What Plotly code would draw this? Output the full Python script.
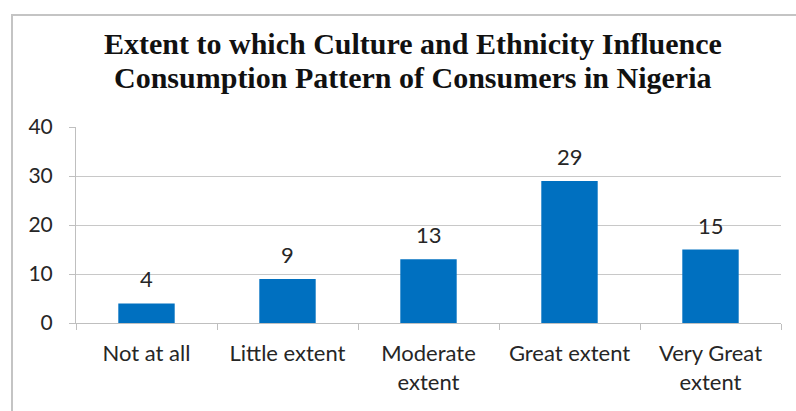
import plotly.graph_objects as go

categories = ["Not at all", "Little extent", "Moderate<br>extent", "Great extent", "Very Great<br>extent"]
values = [4, 9, 13, 29, 15]
y_ticks = [0, 10, 20, 30, 40]
title_lines = ["Extent to which Culture and Ethnicity Influence",
               "Consumption Pattern of Consumers in Nigeria"]

W, H = 796, 411
L, R, T, B = 76, 15, 127, 88
FONT = "Lato, Open Sans, Liberation Sans, sans-serif"

fig = go.Figure()
fig.add_trace(go.Bar(x=categories, y=values, marker=dict(color="#0070C0", line=dict(width=0)),
                     width=0.4, hoverinfo="skip"))

for c, v in zip(categories, values):
    fig.add_annotation(x=c, y=v, text=str(v), showarrow=False, yanchor="bottom", yshift=9,
                       font=dict(family=FONT, size=22, color="#262626"))

pw, ph = W - L - R, H - T - B
for line, py in zip(title_lines, [44, 77]):
    fig.add_annotation(xref="paper", yref="paper", x=(412.5 - L) / pw, y=(H - B - py) / ph,
                       xanchor="center", yanchor="middle", showarrow=False,
                       text="<b>" + line + "</b>",
                       font=dict(family="Liberation Serif, Times New Roman, serif", size=30, color="#111111"))

bx0 = (12 - L) / pw
by1 = (H - B - 15) / ph
fig.add_shape(type="rect", xref="paper", yref="paper", x0=bx0, x1=1.3, y0=-1.0, y1=by1,
              line=dict(color="#c4c4c4", width=2), fillcolor="rgba(0,0,0,0)", layer="below")

fig.update_layout(
    width=W, height=H,
    margin=dict(l=L, r=R, t=T, b=B),
    paper_bgcolor="white", plot_bgcolor="white",
    showlegend=False,
    xaxis=dict(type="category", showline=True, linecolor="#bfbfbf", linewidth=1,
               ticks="outside", tickson="boundaries", ticklen=6, tickcolor="#bfbfbf",
               showgrid=False, ticklabelstandoff=11,
               tickfont=dict(family=FONT, size=22, color="#262626")),
    yaxis=dict(range=[0, 40], tickvals=y_ticks, showline=True, linecolor="#bfbfbf", linewidth=1,
               ticks="outside", ticklen=6, tickcolor="#bfbfbf", ticklabelstandoff=12,
               showgrid=True, gridcolor="#c8c8c8", gridwidth=1, zeroline=False,
               tickfont=dict(family=FONT, size=21, color="#262626")),
)

fig.write_html("out.html")
